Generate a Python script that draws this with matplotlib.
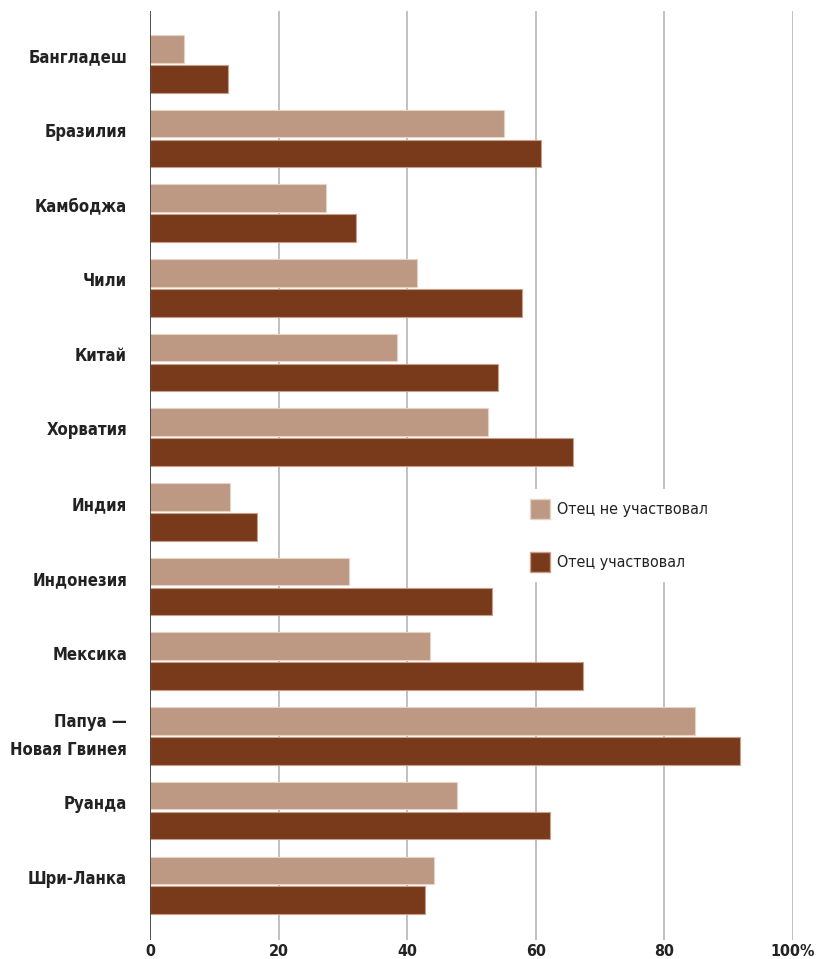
import numpy as np
import matplotlib
matplotlib.use("Agg")
import matplotlib.pyplot as plt
from matplotlib.patches import Patch

plt.rcParams['font.family'] = ['DejaVu Sans']
plt.rcParams['font.stretch'] = 'condensed'

countries = ["Бангладеш", "Бразилия", "Камбоджа", "Чили", "Китай", "Хорватия",
             "Индия", "Индонезия", "Мексика", "Папуа —\nНовая Гвинея", "Руанда", "Шри-Ланка"]
not_involved = [5.3, 55.0, 27.4, 41.5, 38.4, 52.6, 12.4, 30.9, 43.5, 84.8, 47.7, 44.2]
involved = [12.1, 60.8, 32.0, 57.9, 54.1, 65.8, 16.6, 53.2, 67.3, 91.8, 62.2, 42.8]
ticks = [0, 20, 40, 60, 80, 100]
tick_labels = ["0", "20", "40", "60", "80", "100%"]

light = "#bd9882"
dark = "#793a1c"

fig = plt.figure(figsize=(8.16, 9.59), dpi=100)
ax = fig.add_axes([150/816, 19/959, 643/816, 929/959])

y = np.arange(len(countries))
ax.barh(y - 0.2, not_involved, height=0.37, color=light, edgecolor="#e6d3c6", linewidth=0.8, zorder=3)
ax.barh(y + 0.2, involved, height=0.37, color=dark, edgecolor="#c99f88", linewidth=0.8, zorder=3)

ax.set_xlim(0, 100)
ax.set_ylim(len(countries) - 1 + 0.733, -0.707)

for t in ticks[1:]:
    ax.axvline(t, color="#b0b0b0", linewidth=1.1, zorder=1)
ax.axvline(0, color="#333333", linewidth=1.2, zorder=4)

for s in ax.spines.values():
    s.set_visible(False)

ax.set_yticks([])
for i, name in enumerate(countries):
    off = 0 if "\n" in name else -0.09
    ax.text(-23/6.43, i + off, name, ha="right", va="center", fontsize=12,
            fontweight="bold", color="#222222", linespacing=1.7)

ax.set_xticks(ticks)
ax.set_xticklabels(tick_labels, fontsize=11.5, fontweight="bold", color="#222222")
ax.tick_params(axis="x", length=0, pad=3)

handles = [Patch(facecolor=light, edgecolor="#e6d3c6"), Patch(facecolor=dark, edgecolor="#c99f88")]
leg = ax.legend(handles, ["Отец не участвовал", "Отец участвовал"], loc="upper left",
                bbox_to_anchor=(362/643, (948 - 489)/929), frameon=True, fontsize=11.5,
                handlelength=1.25, handleheight=1.6, labelspacing=2.05, handletextpad=0.45,
                borderpad=0.6, framealpha=1)
leg.get_frame().set_edgecolor("white")
leg.get_frame().set_linewidth(0)
leg.set_zorder(5)
for txt in leg.get_texts():
    txt.set_color("#222222")

fig.savefig("out.png", dpi=100)
